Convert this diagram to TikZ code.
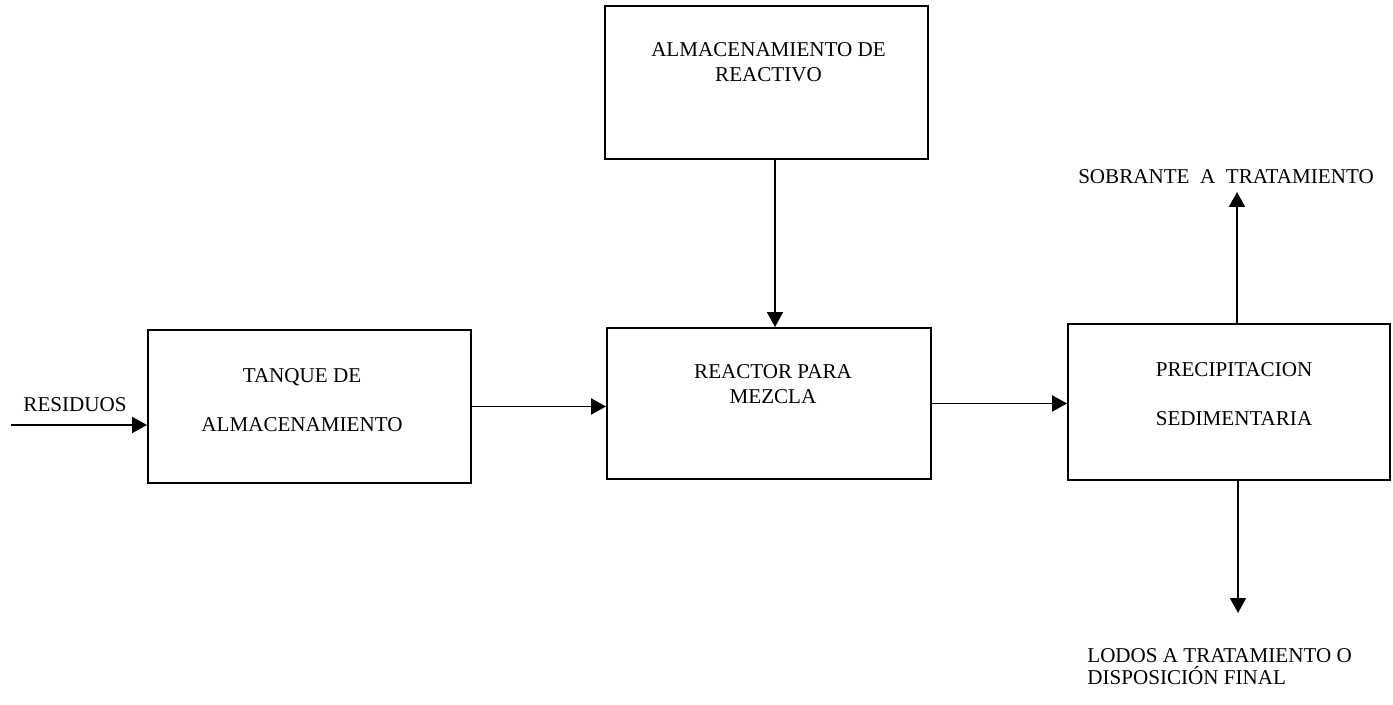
\documentclass[tikz,border=0pt]{standalone}
\usepackage{fontspec}
\setmainfont{Liberation Serif}
\usetikzlibrary{arrows.meta,positioning,calc}

\begin{document}
\begin{tikzpicture}[
  >={Triangle[length=3mm,width=3.2mm]},
  font=\fontsize{12}{14.2}\selectfont,
  proc/.style={rectangle, draw, line width=1.1pt, minimum width=6.46cm, minimum height=3.06cm, inner sep=0pt},
  boxtext/.style={align=center, inner sep=0pt},
  flow/.style={->, line width=1.1pt},
]
\useasboundingbox (0,0) rectangle (27.86,14.08);

% Process boxes
\node[proc] (tanque)   at (6.19,5.95)  {};
\node[proc, minimum width=6.48cm, minimum height=3.02cm] (reactor) at (15.38,6.01) {};
\node[proc] (reactivo) at (15.33,12.43) {};
\node[proc, minimum width=6.44cm, minimum height=3.12cm] (precip) at (24.58,6.04) {};

% Box texts
\node[boxtext] (tanque-txt)   at (6.04,6.08)  {TANQUE DE\\[14pt]ALMACENAMIENTO};
\node[boxtext] (reactor-txt)  at (15.46,6.39) {REACTOR PARA\\MEZCLA};
\node[boxtext] (reactivo-txt) at (15.37,12.83) {ALMACENAMIENTO DE\\REACTIVO};
\node[boxtext] (precip-txt)   at (24.68,6.20) {PRECIPITACION\\[14pt]SEDIMENTARIA};

% Inlet and outlet labels
\node[boxtext] (residuos) at (1.50,5.98) {RESIDUOS};
\node[boxtext] (sobrante) at (24.52,10.54) {SOBRANTE\ \ A\ \ TRATAMIENTO};
\node[boxtext, align=left, anchor=north west] (lodos) at (21.74,1.12)
  {LODOS A TRATAMIENTO O\\[-1.7pt]DISPOSICIÓN FINAL};

% Free arrow ends
\coordinate (entrada) at (0.22,5.58);
\coordinate (salida)  at (24.74,10.24);
\coordinate (fondo)   at (24.76,1.82);

% Flow lines
\draw[flow] (entrada) -- (entrada -| tanque.west);
\draw[flow] (tanque.east) -- (tanque.east -| reactor.west);
\draw[flow] (reactor.east) -- (reactor.east -| precip.west);
\draw[flow] ([xshift=0.17cm]reactivo.south) -- ([xshift=0.17cm]reactivo.south |- reactor.north);
\draw[flow] (salida |- precip.north) -- (salida);
\draw[flow] (fondo |- precip.south) -- (fondo);

\end{tikzpicture}
\end{document}
